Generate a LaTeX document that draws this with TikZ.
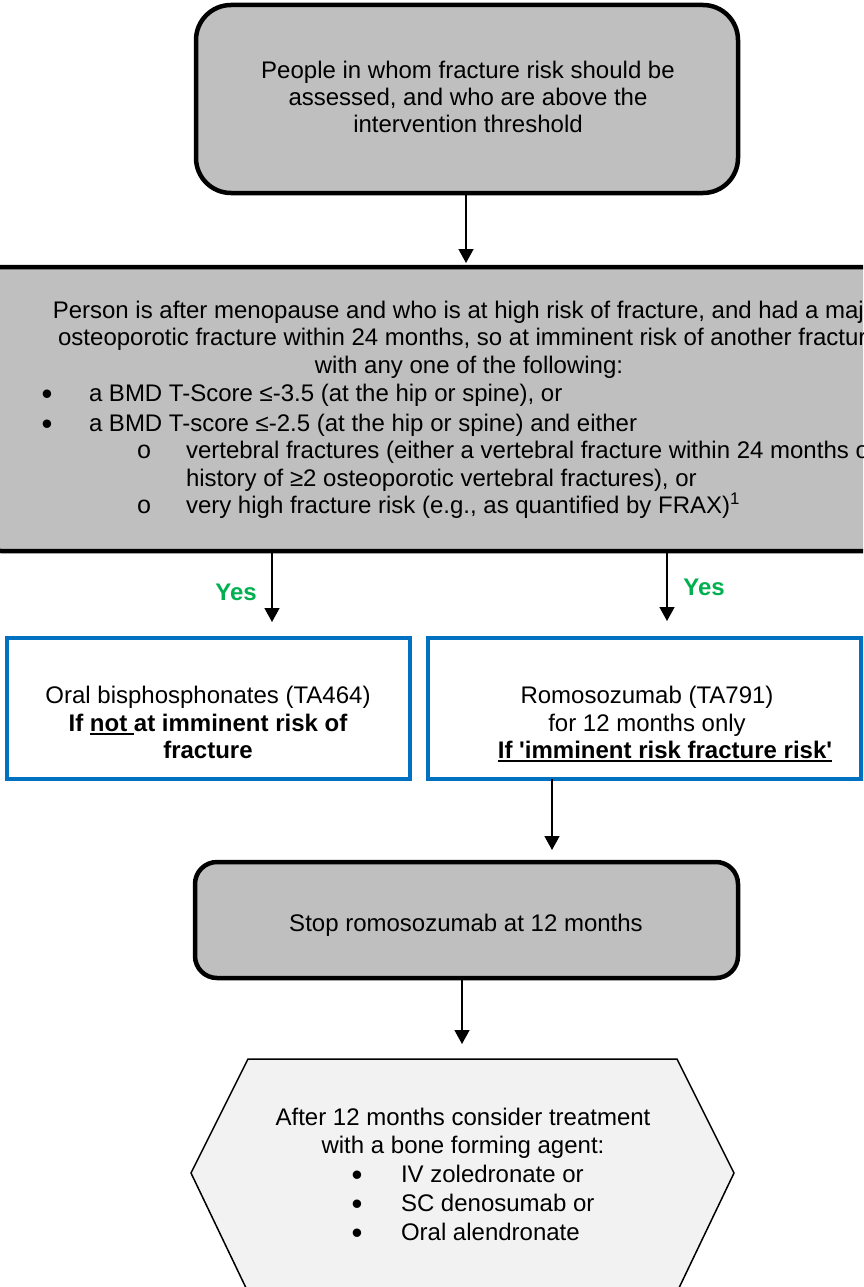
\documentclass[tikz,border=0pt]{standalone}
\usepackage{fontspec}
\newfontfamily\arial{Liberation Sans}
\newfontfamily\cour{Liberation Mono}
\usetikzlibrary{arrows.meta}
\definecolor{boxgray}{RGB}{191,191,191}
\definecolor{hexgray}{RGB}{242,242,242}
\definecolor{nblue}{RGB}{0,112,192}
\definecolor{ygreen}{RGB}{0,176,80}
\newcommand{\myul}[1]{\setbox0\hbox{#1}\rlap{\rule[-3.5pt]{\wd0}{1.8pt}}\box0}
\begin{document}
\begin{tikzpicture}[x=1pt,y=-1pt,
 graybox/.style={draw=black,line width=4.5pt,fill=boxgray,rounded corners=#1,inner sep=0pt,outer sep=0pt},
 graybox/.default=25pt,
 bluebox/.style={draw=nblue,line width=3.5pt,fill=white,inner sep=0pt,outer sep=0pt},
 txt/.style={font=\arial\fontsize{24}{28}\selectfont,inner sep=0pt,outer sep=0pt,anchor=base},
 txtl/.style={txt,anchor=base west},
 boldtxt/.style={font=\arial\bfseries\fontsize{24}{28}\selectfont},
 dotbullet/.style={txtl,font=\arial\fontsize{31}{31}\selectfont},
 obullet/.style={txtl,font=\cour\fontsize{25}{25}\selectfont},
 yes/.style={txt,font=\arial\bfseries\fontsize{24}{28}\selectfont,text=ygreen},
 arr/.style={line width=1.5pt,-{Triangle[length=14pt,width=15pt]}},
]
\useasboundingbox (0,0) rectangle (863,1287);
\begin{scope}
\clip (0,0) rectangle (863,1287);
% top box
\node[graybox=35pt,minimum width=542pt,minimum height=188pt] (top) at (467,99) {};
\node[txt] (t1) at (468,79) {People in whom fracture risk should be};
\node[txt] (t2) at (468,105.5) {assessed, and who are above the};
\node[txt] (t3) at (468,132) {intervention threshold};
% middle box
\node[graybox=25pt,minimum width=980pt,minimum height=284pt] (mid) at (466,409) {};
\node[txt] (m1) at (469,318.5) {Person is after menopause and who is at high risk of fracture, and had a major};
\node[txt] (m2) at (469,345.5) {osteoporotic fracture within 24 months, so at imminent risk of another fracture};
\node[txt] (m3) at (469,373.5) {with any one of the following:};
\node[dotbullet] (bu1) at (41.5,404) {•};
\node[txtl] (m4) at (89,401.5) {a BMD T-Score ≤-3.5 (at the hip or spine), or};
\node[dotbullet] (bu2) at (41.5,434) {•};
\node[txtl] (m5) at (89,431.5) {a BMD T-score ≤-2.5 (at the hip or spine) and either};
\node[obullet] (so1) at (136.5,458.5) {o};
\node[txtl] (m6) at (186,458.5) {vertebral fractures (either a vertebral fracture within 24 months or};
\node[txtl] (m7) at (186,486.5) {history of ≥2 osteoporotic vertebral fractures), or};
\node[obullet] (so2) at (136.5,513.5) {o};
\node[txtl] (m8) at (186,513.5) {very high fracture risk (e.g., as quantified by FRAX)\textsuperscript{1}};
% yes labels
\node[yes] (y1) at (236,600.5) {Yes};
\node[yes] (y2) at (704,595.5) {Yes};
% blue boxes
\node[bluebox,minimum width=403pt,minimum height=141pt] (lb) at (208.5,708.5) {};
\node[bluebox,minimum width=433pt,minimum height=141pt] (rb) at (644.5,708.5) {};
\node[txt] (l1) at (208,703.5) {Oral bisphosphonates (TA464)};
\node[txt,boldtxt] (l2) at (208,731) {If \myul{not\ }at imminent risk of};
\node[txt,boldtxt] (l3) at (208,758) {fracture};
\node[txt] (r1) at (647,703.5) {Romosozumab (TA791)};
\node[txt] (r2) at (647,731) {for 12 months only};
\node[txt,boldtxt] (r3) at (665,758) {\myul{If 'imminent risk fracture risk'}};
% stop box
\node[graybox=22pt,minimum width=543pt,minimum height=116pt] (stop) at (466.5,920) {};
\node[txt] (s1) at (466,931.5) {Stop romosozumab at 12 months};
% hexagon
\draw[line width=1.5pt,fill=hexgray] (248,1059) -- (677,1059) -- (734,1173) -- (678,1290) -- (247,1290) -- (191,1173) -- cycle;
\coordinate (hex) at (462.5,1059);
\node[txt] (h1) at (463,1125.5) {After 12 months consider treatment};
\node[txt] (h2) at (463,1153.5) {with a bone forming agent:};
\node[dotbullet] (hb1) at (351.5,1185) {•};
\node[txtl] (h3) at (401,1182.5) {IV zoledronate or};
\node[dotbullet] (hb2) at (351.5,1214) {•};
\node[txtl] (h4) at (401,1211.5) {SC denosumab or};
\node[dotbullet] (hb3) at (351.5,1243) {•};
\node[txtl] (h5) at (401,1240.5) {Oral alendronate};
% arrows
\coordinate (xa) at (466,0);
\coordinate (xl) at (272,0);
\coordinate (xr) at (667,0);
\coordinate (xs) at (552,0);
\coordinate (xh) at (462,0);
\draw[arr,shorten >=4pt] (xa |- top.south) -- (xa |- mid.north);
\draw[arr,shorten >=16pt] (xl |- mid.south) -- (xl |- lb.north);
\draw[arr,shorten >=17pt] (xr |- mid.south) -- (xr |- rb.north);
\draw[arr,shorten >=12pt] (xs |- rb.south) -- (xs |- stop.north);
\draw[arr,shorten >=15pt] (xh |- stop.south) -- (xh |- hex);
\end{scope}
\end{tikzpicture}
\end{document}
